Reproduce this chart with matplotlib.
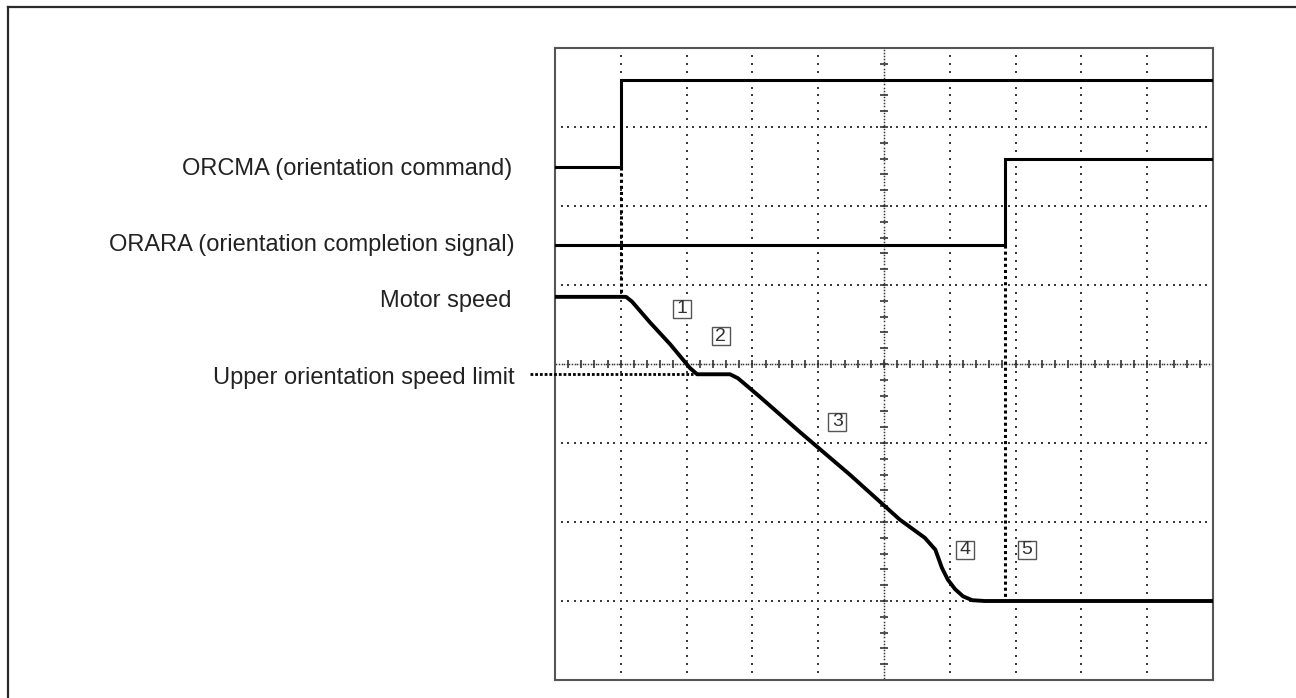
import numpy as np
import matplotlib
matplotlib.use("Agg")
import matplotlib.pyplot as plt
from matplotlib.lines import Line2D
from matplotlib.patches import Rectangle

# ---------------- data (in scope divisions: x 0..10, y 0..8) ----------------
orcma_t = [0, 1.01, 1.01, 10]
orcma_lvl = [6.5, 6.5, 7.6, 7.6]

orara_t = [0, 6.84, 6.84, 10]
orara_lvl = [5.51, 5.51, 6.59, 6.59]

speed_t = [0, 1.08, 1.17, 1.44, 1.75, 2.05, 2.16, 2.66, 2.78, 3.12, 3.72, 4.48,
           5.24, 5.62, 5.78, 5.88, 5.97, 6.08, 6.20, 6.34, 6.53, 10]
speed_v = [4.85, 4.85, 4.79, 4.53, 4.25, 3.95, 3.87, 3.87, 3.82, 3.58, 3.14, 2.60,
           2.03, 1.80, 1.65, 1.42, 1.27, 1.15, 1.06, 1.01, 1.00, 1.00]

speed_limit = 3.87
limit_x_start = -0.38
limit_x_end = 2.1

marker_nums = ["1", "2", "3", "4", "5"]
marker_x = [1.93, 2.52, 4.29, 6.23, 7.17]
marker_y = [4.70, 4.35, 3.27, 1.65, 1.65]

signal_labels = ["ORCMA (orientation command)",
                 "ORARA (orientation completion signal)",
                 "Motor speed",
                 "Upper orientation speed limit"]
label_right_px = [512, 515, 512, 515]
label_base_px = [175.5, 251, 306.5, 384]

# ---------------- figure ----------------
W, H = 1296, 698
fig = plt.figure(figsize=(W / 100, H / 100), dpi=100)
fig.patch.set_facecolor("white")

# outer frame (only top and left edges visible)
fig.add_artist(Line2D([8 / W, 1.0], [1 - 7 / H, 1 - 7 / H], transform=fig.transFigure,
                      color="#2a2a2a", lw=1.6))
fig.add_artist(Line2D([8 / W, 8 / W], [1 - 7 / H, 0.0], transform=fig.transFigure,
                      color="#2a2a2a", lw=1.6))

L, T, R, B = 555, 48, 1213, 680
ax = fig.add_axes([L / W, 1 - B / H, (R - L) / W, (B - T) / H])
ax.set_xlim(0, 10)
ax.set_ylim(0, 8)
ax.set_xticks([])
ax.set_yticks([])
for s in ax.spines.values():
    s.set_color("#555555")
    s.set_linewidth(1.5)

grid_c = "#3a3a3a"
# ordinary dotted grid
for i in range(1, 10):
    if i == 5:
        continue
    ys = np.arange(0.1, 8.0, 0.1)
    ax.plot(np.full_like(ys, i), ys, ls="none", marker="s", ms=1.45, color=grid_c,
            mew=0, zorder=1)
for j in range(1, 8):
    if j == 4:
        continue
    xs = np.arange(0.1, 10.0, 0.1)
    ax.plot(xs, np.full_like(xs, j), ls="none", marker="s", ms=1.45, color=grid_c,
            mew=0, zorder=1)

# centre axes: dense dots with minor ticks
ys = np.arange(0.02, 8.0, 0.04)
ax.plot(np.full_like(ys, 5), ys, ls="none", marker="s", ms=1.1, color=grid_c, mew=0, zorder=1)
xs = np.arange(0.02, 10.0, 0.04)
ax.plot(xs, np.full_like(xs, 4), ls="none", marker="s", ms=1.1, color=grid_c, mew=0, zorder=1)
yt = np.arange(0.2, 8.0, 0.2)
ax.plot(np.full_like(yt, 5), yt, ls="none", marker="_", ms=5.5, mew=1.2, color="#333333", zorder=1)
xt = np.arange(0.2, 10.0, 0.2)
ax.plot(xt, np.full_like(xt, 4), ls="none", marker="|", ms=5.5, mew=1.2, color="#333333", zorder=1)

# signals
ax.plot(orcma_t, orcma_lvl, color="black", lw=2.2, solid_joinstyle="miter", zorder=3)
ax.plot(orara_t, orara_lvl, color="black", lw=2.2, solid_joinstyle="miter", zorder=3)
ax.plot(speed_t, speed_v, color="black", lw=2.8, zorder=3)

# thick dotted connection lines
ax.plot([orcma_t[1], orcma_t[1]], [orcma_lvl[0], speed_v[0]], color="black", lw=2.2,
        ls=(0, (1, 1)), zorder=3, clip_on=False)
ax.plot([orara_t[1], orara_t[1]], [orara_lvl[0], speed_v[-1]], color="black", lw=2.2,
        ls=(0, (1, 1)), zorder=3)
ax.plot([limit_x_start, limit_x_end], [speed_limit, speed_limit], color="black", lw=2.0,
        ls=(0, (1, 0.7)), zorder=3, clip_on=False)

# numbered boxes
bw, bh = 18 / 65.8, 18 / 79
for n, x, y in zip(marker_nums, marker_x, marker_y):
    ax.add_patch(Rectangle((x - bw / 2, y - bh / 2), bw, bh, fill=True, facecolor="white",
                           edgecolor="#555555", lw=1.0, zorder=4))
    ax.text(x, y, n, ha="center", va="center", fontsize=14, color="#333333",
            family="Liberation Sans", zorder=5)

# labels
for lab, xr, yb in zip(signal_labels, label_right_px, label_base_px):
    fig.text(xr / W, 1 - yb / H, lab, ha="right", va="baseline", fontsize=17,
             family="Liberation Sans", color="#222222")

fig.savefig("out.png", dpi=100, facecolor="white")
